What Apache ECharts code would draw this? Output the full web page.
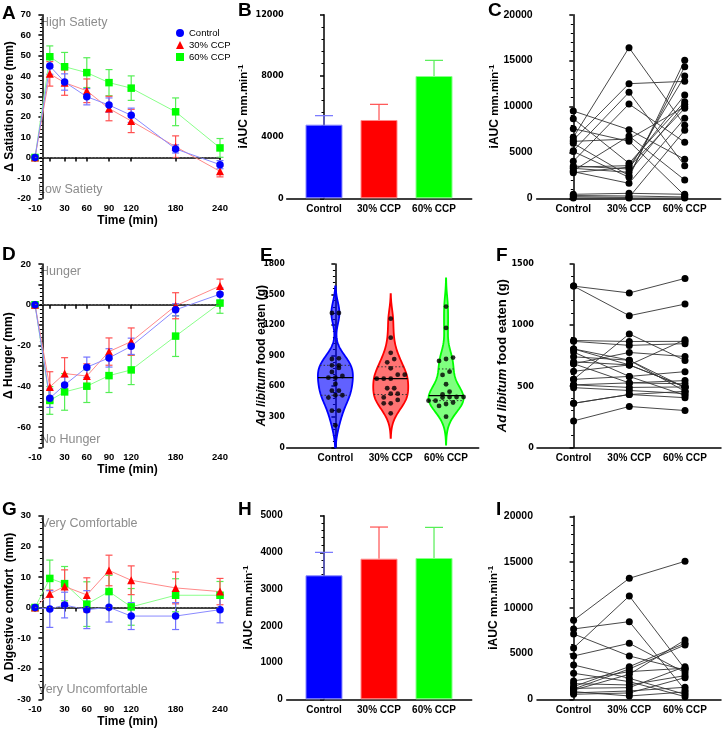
<!DOCTYPE html>
<html><head><meta charset="utf-8">
<script src="https://cdn.jsdelivr.net/npm/echarts@6/dist/echarts.min.js"></script>
<style>html,body{margin:0;padding:0;background:#fff}#c{width:723px;height:731px}</style>
</head><body><div id="c"></div>
<script>
// ---------- DATA ----------
const groups = ['Control', '30% CCP', '60% CCP'];
const timePoints = [-10, 10, 30, 60, 90, 120, 180, 240];
const timeTickLabels = [-10, 30, 60, 90, 120, 180, 240];

// A: satiation score
const satControl = [0, 44.8, 37, 29.8, 25.7, 20.7, 4.2, -3.5];
const satControlErr = [0, 4, 4, 4, 3.5, 3.5, 2, 2];
const sat30 = [0, 41, 36.7, 32.7, 24, 17.9, 5.3, -6.8];
const sat30Err = [0, 6, 6.2, 5.8, 6, 5.7, 5.3, 2.7];
const sat60 = [0, 49.4, 44.5, 41.6, 36.7, 34, 22.4, 4.7];
const sat60Err = [0, 5.3, 7, 7.3, 6.4, 6, 6.8, 4.6];

// D: hunger
const hunControl = [0, -45.9, -39.4, -30.7, -26.1, -20.4, -2.5, 5.2];
const hunControlErr = [0, 4.5, 4, 5, 4.5, 4, 3, 3];
const hun30 = [0, -40.4, -33.8, -35, -23, -18.1, -0.5, 9.2];
const hun30Err = [0, 7.5, 7.8, 6, 6.7, 6.7, 6.4, 3.4];
const hun60 = [0, -47, -42.8, -40, -34.8, -32, -15.4, 0.8];
const hun60Err = [0, 6.8, 9, 8, 8.3, 7.2, 10, 5];

// G: digestive comfort
const comControl = [0, -0.5, 0.8, -0.7, 0.05, -2.8, -2.8, -0.7];
const comControlErr = [0, 6, 4.2, 6.2, 4.8, 4.4, 4.4, 4.3];
const com30 = [0, 4.5, 6.9, 4.1, 12.1, 8.9, 6.4, 5.2];
const com30Err = [0, 1.2, 5.4, 5.6, 5, 4.7, 5.2, 4.3];
const com60 = [0, 9.5, 7.8, 1.1, 5.2, 0.2, 4, 4];
const com60Err = [0, 6, 5.6, 7.3, 5.3, 6, 5.4, 4.5];

// B: satiation iAUC (mean, SEM)
const aucSatMean = [4813, 5118, 7993];
const aucSatErr = [588, 1023, 1023];
// H: comfort iAUC
const aucComMean = [3376, 3829, 3848];
const aucComErr = [626, 862, 834];

// C: individual satiation iAUC (paired by index)
const cControl = [9510, 8675, 7586, 6642, 6352, 6200, 5989, 5190, 5100, 4029, 3521, 3400, 3267, 3013, 2900, 2795, 436, 300, 181, 36];
const c30 = [7477, 3811, 6207, 16407, 12486, 6461, 2468, 11543, 2287, 10272, 3194, 3557, 2831, 6787, 1633, 3400, 545, 254, 100, 36];
const c60 = [4247, 10526, 300, 7949, 12740, 9982, 14338, 3557, 15027, 6098, 13321, 11252, 10236, 1996, 8711, 9800, 436, 145, 7405, 36];

// E / F: ad libitum food eaten (g), paired by index
const fControl = [1319, 1319, 874, 867, 805, 805, 779, 740, 700, 684, 684, 622, 556, 556, 511, 511, 488, 360, 360, 216];
const f30 = [1263, 1077, 866, 834, 674, 713, 580, 713, 674, 776, 527, 674, 928, 580, 527, 490, 465, 432, 432, 334];
const f60 = [1382, 1172, 867, 848, 494, 458, 425, 489, 494, 743, 546, 881, 711, 619, 520, 494, 440, 406, 458, 301];

// I: individual comfort iAUC
const iControl = [8634, 7687, 7140, 5610, 4736, 3752, 2842, 2004, 1712, 1384, 1129, 838, 546, 1000, 1200, 700];
const i30 = [13224, 8488, 4736, 11293, 6120, 2295, 1930, 3024, 1566, 3570, 3315, 364, 692, 2732, 1275, 911];
const i60 = [15082, 1020, 3206, 3300, 2914, 546, 291, 3400, 2586, 6120, 5938, 800, 2368, 6484, 3570, 1311];

// ---------- STYLE ----------
const FONT = 'Liberation Sans, Arial, Helvetica, sans-serif';
const NARROW = "'Liberation Sans Narrow', 'DejaVu Sans Condensed', 'Liberation Sans', Arial, sans-serif";
const COL = ['#0000ff', '#ff0000', '#00ff00'];
const LIGHT = ['#8a8aff', '#ff8a8a', '#8aff8a'];
const ERRC = ['#7373ff', '#ff5050', '#55ee55'];
const SYMS = ['circle', 'triangle', 'rect'];

const chart = echarts.init(document.getElementById('c'), null, {renderer: 'canvas'});

// grid boxes [left, top, width, height]
const boxes = [
  [35, 14.7, 185, 183.6],   // A
  [286.7, 14.7, 185, 183.6],// B
  [536.7, 14.7, 184, 183.6],// C
  [35, 264, 185, 183.3],    // D
  [286.7, 264, 192, 183.3], // E
  [537, 264, 184, 183.3],   // F
  [35, 515.7, 185, 183.6],  // G
  [286.7, 515.7, 185, 183.6],// H
  [537, 516.3, 184, 183]    // I
];
const grids = boxes.map(b => ({left: b[0], top: b[1], width: b[2], height: b[3], containLabel: false, outerBoundsMode: 'none'}));

const axisLineStyle = {show: true, lineStyle: {color: '#000', width: 1.5}};
const tickStyle = {show: true, inside: false, length: 4, lineStyle: {color: '#000', width: 1.5}};
const labelStyle = {color: '#000', fontWeight: 'bold', fontSize: 10, fontFamily: FONT};

function timeXAxis(gi) {
  return {
    gridIndex: gi, type: 'value', min: -10, max: 240,
    axisLine: axisLineStyle,
    axisTick: Object.assign({}, tickStyle, {customValues: [-10, 10, 30, 45, 60, 90, 120, 180, 240]}),
    axisLabel: Object.assign({}, labelStyle, {customValues: timeTickLabels, margin: 5, fontSize: 9.5, formatter: v => String(v)}),
    splitLine: {show: false},
    name: 'Time (min)', nameLocation: 'middle', nameGap: 16, nameMoveOverlap: false,
    nameTextStyle: {color: '#000', fontWeight: 'bold', fontSize: 12, fontFamily: FONT}
  };
}
function catXAxis(gi, min, max) {
  return {
    gridIndex: gi, type: 'value', min: min, max: max,
    axisLine: axisLineStyle, axisTick: {show: false},
    axisLabel: Object.assign({}, labelStyle, {customValues: [0, 1, 2], margin: 6, formatter: v => groups[Math.round(v)]}),
    splitLine: {show: false}
  };
}
function yAxisDef(gi, min, max, interval, name, gap, labelSize, labelMargin, family, nameSize, fmt) {
  return {
    gridIndex: gi, type: 'value', min: min, max: max, interval: interval,
    axisLine: axisLineStyle, axisTick: tickStyle,
    minorTick: {show: true, splitNumber: 5, length: 2.5, lineStyle: {color: '#000', width: 1}},
    axisLabel: Object.assign({}, labelStyle, {fontSize: labelSize, margin: labelMargin, fontFamily: family, formatter: fmt || (v => String(v))}),
    splitLine: {show: false}, minorSplitLine: {show: false},
    name: name, nameLocation: 'middle', nameGap: gap, nameMoveOverlap: false,
    nameTextStyle: {color: '#000', fontWeight: 'bold', fontSize: 12, fontFamily: FONT,
      rich: {
        b: {fontWeight: 'bold', fontSize: 12, fontFamily: FONT, color: '#000'},
        n: {fontWeight: 'bold', fontSize: 11.5, fontFamily: FONT, color: '#000'},
        s: {fontWeight: 'bold', fontSize: 8, fontFamily: FONT, color: '#000', verticalAlign: 'top', padding: [0, 0, 6, 0]},
        i: {fontStyle: 'italic', fontSize: nameSize || 13, fontFamily: FONT, color: '#000'},
        r: {fontSize: nameSize || 13, fontFamily: FONT, color: '#000'}
      }}
  };
}
const aucName = '{b|iAUC} {n|mm.min}{s|-1}';
const foodName = '{i|Ad libitum}{r| food eaten (g)}';

const xAxes = [
  timeXAxis(0),
  catXAxis(1, -0.678, 2.685),
  catXAxis(2, -0.657, 2.646),
  timeXAxis(3),
  catXAxis(4, -0.88, 2.59),
  catXAxis(5, -0.657, 2.646),
  timeXAxis(6),
  catXAxis(7, -0.678, 2.685),
  catXAxis(8, -0.657, 2.646)
];
const yAxes = [
  yAxisDef(0, -20, 70, 10, 'Δ Satiation score (mm)', 19, 9.5, 4, FONT),
  yAxisDef(1, 0, 12000, 4000, aucName, 36, 9, 3, NARROW),
  yAxisDef(2, 0, 20000, 5000, aucName, 35, 10.5, 4, FONT),
  yAxisDef(3, -70, 20, 10, 'Δ Hunger (mm)', 20, 9.5, 4, FONT, 13, v => (v % 20 === 0 ? String(v) : '')),
  yAxisDef(4, 0, 1800, 300, foodName, 19, 8.5, 2, NARROW, 12),
  yAxisDef(5, 0, 1500, 500, foodName, 28, 9, 3, NARROW, 13),
  yAxisDef(6, -30, 30, 10, 'Δ Digestive comfort  (mm)', 19, 9.5, 4, FONT),
  yAxisDef(7, 0, 5000, 1000, aucName, 31, 10, 4, FONT),
  yAxisDef(8, 0, 20000, 5000, aucName, 36, 10.5, 4, FONT)
];

// ---------- SERIES ----------
const series = [];

function errRender(color, cap, upOnly) {
  return function (params, api) {
    const x = api.value(0), y = api.value(1), e = api.value(2);
    if (!e) return;
    const c = api.coord([x, y]);
    const t = api.coord([x, y + e]);
    const b = upOnly ? c : api.coord([x, y - e]);
    const h = cap / 2;
    const st = {stroke: color, lineWidth: 1.2};
    const ch = [
      {type: 'line', shape: {x1: c[0], y1: t[1], x2: c[0], y2: b[1]}, style: st},
      {type: 'line', shape: {x1: c[0] - h, y1: t[1], x2: c[0] + h, y2: t[1]}, style: st}
    ];
    if (!upOnly) ch.push({type: 'line', shape: {x1: c[0] - h, y1: b[1], x2: c[0] + h, y2: b[1]}, style: st});
    return {type: 'group', children: ch};
  };
}

function addTimePanel(gi, sets, named) {
  series.push({
    type: 'line', xAxisIndex: gi, yAxisIndex: gi, data: [], silent: true, z: 1,
    markLine: {silent: true, symbol: 'none', label: {show: false},
      lineStyle: {type: [1.5, 2], color: '#666', width: 1}, data: [{yAxis: 0}], animation: false}
  });
  const order = [2, 1, 0];
  order.forEach(g => {
    const [vals, errs] = sets[g];
    series.push({
      type: 'custom', xAxisIndex: gi, yAxisIndex: gi, z: 2, silent: true,
      renderItem: errRender(ERRC[g], 7, false),
      encode: {x: 0, y: 1},
      data: timePoints.map((t, i) => [t, vals[i], errs[i]])
    });
  });
  order.forEach(g => {
    const [vals] = sets[g];
    series.push({
      type: 'line', name: named ? groups[g] : ('p' + gi + '_' + g), xAxisIndex: gi, yAxisIndex: gi, z: 3,
      data: timePoints.map((t, i) => [t, vals[i]]),
      symbol: SYMS[g], symbolSize: g === 1 ? 8 : 7.5,
      itemStyle: {color: COL[g]},
      lineStyle: {color: LIGHT[g], width: 1},
      animation: false
    });
  });
}
addTimePanel(0, [[satControl, satControlErr], [sat30, sat30Err], [sat60, sat60Err]], true);
addTimePanel(3, [[hunControl, hunControlErr], [hun30, hun30Err], [hun60, hun60Err]], false);
addTimePanel(6, [[comControl, comControlErr], [com30, com30Err], [com60, com60Err]], false);

function addBarPanel(gi, means, errs) {
  series.push({
    type: 'custom', xAxisIndex: gi, yAxisIndex: gi, z: 1, silent: true,
    renderItem: function (params, api) {
      const g = params.dataIndex;
      return errRender(ERRC[g], 18, true)(params, api);
    },
    encode: {x: 0, y: 1},
    data: means.map((m, i) => [i, m, errs[i]])
  });
  series.push({
    type: 'bar', xAxisIndex: gi, yAxisIndex: gi, barWidth: 37, z: 2, animation: false,
    data: means.map((m, i) => ({value: [i, m], itemStyle: {color: COL[i], borderColor: LIGHT[i], borderWidth: 1}}))
  });
}
addBarPanel(1, aucSatMean, aucSatErr);
addBarPanel(7, aucComMean, aucComErr);

function addPairedPanel(gi, a, b, c, size) {
  a.forEach((v, i) => {
    series.push({
      type: 'line', xAxisIndex: gi, yAxisIndex: gi, z: 2, animation: false, silent: true,
      data: [[0, a[i]], [1, b[i]], [2, c[i]]],
      symbol: 'circle', symbolSize: size,
      itemStyle: {color: '#000'},
      lineStyle: {color: '#333', width: 0.9}
    });
  });
}
addPairedPanel(2, cControl, c30, c60, 7);
addPairedPanel(5, fControl, f30, f60, 7);
addPairedPanel(8, iControl, i30, i60, 7);

// ---------- E: violins ----------
const E_PX_PER_UNIT = 192 / (2.59 + 0.88);
function quantile(sorted, p) {
  const pos = (sorted.length - 1) * p, lo = Math.floor(pos), hi = Math.ceil(pos);
  return sorted[lo] + (sorted[hi] - sorted[lo]) * (pos - lo);
}
function violinStats(vals) {
  const n = vals.length;
  const s = vals.slice().sort((x, y) => x - y);
  const mean = s.reduce((p, q) => p + q, 0) / n;
  const sd = Math.sqrt(s.reduce((p, q) => p + (q - mean) * (q - mean), 0) / (n - 1));
  const q1 = quantile(s, 0.25), q3 = quantile(s, 0.75), med = quantile(s, 0.5);
  const bw = 0.9 * Math.min(sd, (q3 - q1) / 1.34) * Math.pow(n, -0.2);
  const lo = Math.max(0, s[0] - 2.4 * bw), hi = s[n - 1] + 2.4 * bw;
  const dens = y => s.reduce((p, v) => p + Math.exp(-0.5 * ((y - v) / bw) ** 2), 0);
  const ys = [], d = [];
  const N = 120;
  for (let k = 0; k <= N; k++) { const y = lo + (hi - lo) * k / N; ys.push(y); d.push(dens(y)); }
  const maxD = Math.max.apply(null, d);
  const halfMax = 17.5 / E_PX_PER_UNIT;
  return {ys: ys, w: d.map(v => v / maxD * halfMax), wAt: y => dens(y) / maxD * halfMax, q1: q1, q3: q3, med: med};
}
const eStats = [violinStats(fControl), violinStats(f30), violinStats(f60)];
const VFILL = ['rgba(0,0,255,0.62)', 'rgba(255,0,0,0.55)', 'rgba(0,255,0,0.5)'];
series.push({
  type: 'custom', xAxisIndex: 4, yAxisIndex: 4, z: 1, silent: true,
  encode: {x: 0, y: 1},
  data: [[0, 0], [1, 0], [2, 0]],
  renderItem: function (params, api) {
    const g = params.dataIndex, s = eStats[g];
    const pts = [];
    for (let k = 0; k < s.ys.length; k++) pts.push(api.coord([g + s.w[k], s.ys[k]]));
    for (let k = s.ys.length - 1; k >= 0; k--) pts.push(api.coord([g - s.w[k], s.ys[k]]));
    const ch = [{type: 'polygon', shape: {points: pts}, style: {fill: VFILL[g], stroke: COL[g], lineWidth: 1.8}}];
    const hl = (y, dashed) => {
      const w = s.wAt(y);
      const p1 = api.coord([g - w, y]), p2 = api.coord([g + w, y]);
      ch.push({type: 'line', shape: {x1: p1[0], y1: p1[1], x2: p2[0], y2: p2[1]},
        style: {stroke: dashed ? '#333' : '#000', lineWidth: dashed ? 1 : 1.2, lineDash: dashed ? [1.5, 2] : null}});
    };
    hl(s.q1, true); hl(s.q3, true); hl(s.med, false);
    return {type: 'group', children: ch};
  }
});
function swarm(vals, gi, rowGap, stepPx) {
  const idx = vals.map((v, i) => i).sort((p, q) => vals[p] - vals[q]);
  const rows = []; let cur = null;
  idx.forEach(i => {
    if (!cur || vals[i] - cur.start >= rowGap) { cur = {start: vals[i], items: []}; rows.push(cur); }
    cur.items.push(i);
  });
  const out = [];
  rows.forEach(r => {
    const n = r.items.length;
    r.items.forEach((i, k) => out.push([gi + (k - (n - 1) / 2) * stepPx / E_PX_PER_UNIT, vals[i]]));
  });
  return out;
}
[fControl, f30, f60].forEach((vals, g) => {
  series.push({
    type: 'scatter', xAxisIndex: 4, yAxisIndex: 4, z: 3, silent: true, animation: false,
    symbol: 'circle', symbolSize: 4.8, itemStyle: {color: '#000'},
    data: swarm(vals, g, 45, 7)
  });
});

// ---------- GRAPHIC TEXT ----------
const letter = (t, x, y) => ({type: 'text', left: x, top: y, style: {text: t, fontSize: 19, fontWeight: 'bold', fontFamily: FONT, fill: '#000'}});
const note = (t, x, y) => ({type: 'text', left: x, top: y, style: {text: t, fontSize: 12.5, fontFamily: FONT, fill: '#8c8c8c'}});
const graphic = [
  letter('A', 2, 4), letter('B', 238, 1), letter('C', 488, 1),
  letter('D', 2, 245), letter('E', 260, 246), letter('F', 496, 246),
  letter('G', 2, 500), letter('H', 238, 500), letter('I', 496, 500),
  note('High Satiety', 40, 16), note('Low Satiety', 38, 183),
  note('Hunger', 40, 265), note('No Hunger', 40, 433),
  note('Very Comfortable', 41, 517), note('Very Uncomfortable', 38, 683)
];

chart.setOption({
  animation: false,
  backgroundColor: '#fff',
  textStyle: {fontFamily: FONT},
  grid: grids,
  xAxis: xAxes,
  yAxis: yAxes,
  legend: {
    show: true, orient: 'vertical', left: 171, top: 23, itemGap: 2,
    itemWidth: 8, itemHeight: 8, itemStyle: {borderWidth: 0},
    textStyle: {fontSize: 9.5, color: '#000', fontFamily: FONT},
    data: [
      {name: 'Control', icon: 'circle'},
      {name: '30% CCP', icon: 'triangle'},
      {name: '60% CCP', icon: 'rect'}
    ],
    selectedMode: false
  },
  series: series,
  graphic: graphic
});
</script>
</body></html>
